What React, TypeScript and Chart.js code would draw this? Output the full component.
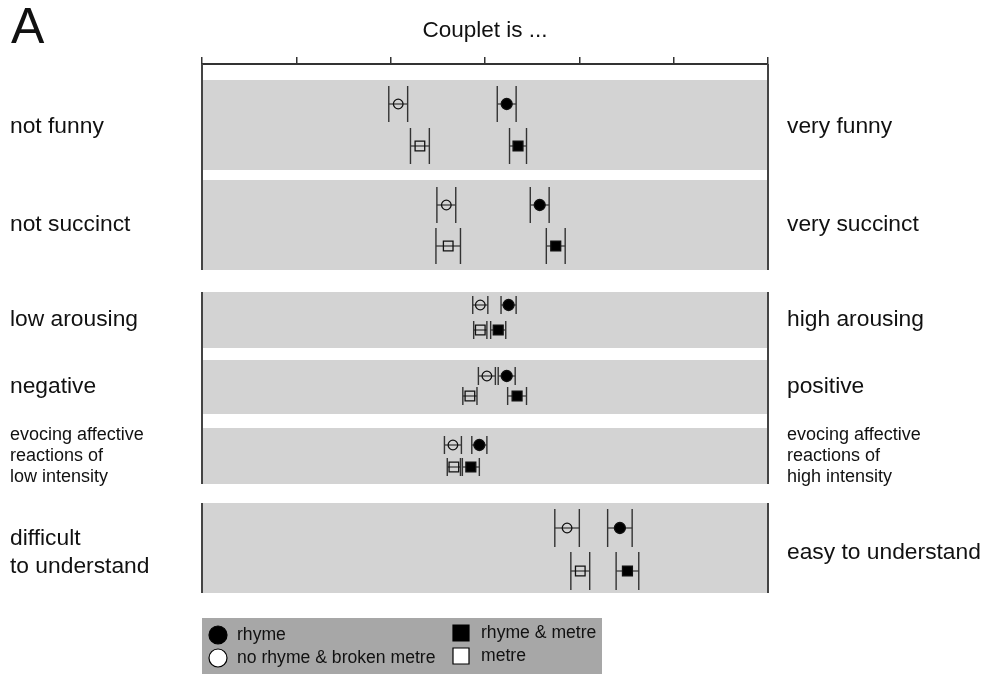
import React, { useEffect, useRef } from "react";
import { Chart, registerables } from "chart.js";
Chart.register(...registerables);

// ---- data ----
const leftLabels: string[][] = [
  ["not funny"],
  ["not succinct"],
  ["low arousing"],
  ["negative"],
  ["evocing affective", "reactions of", "low intensity"],
  ["difficult", "to understand"],
];
const rightLabels: string[][] = [
  ["very funny"],
  ["very succinct"],
  ["high arousing"],
  ["positive"],
  ["evocing affective", "reactions of", "high intensity"],
  ["easy to understand"],
];
const smallLabel = [false, false, false, false, true, false];

const rhymeMean = [4.23, 4.58, 4.25, 4.23, 3.94, 5.43];
const rhymeErr = [0.1, 0.1, 0.08, 0.09, 0.08, 0.13];
const noRhymeMean = [3.08, 3.59, 3.95, 4.02, 3.66, 4.87];
const noRhymeErr = [0.1, 0.1, 0.08, 0.09, 0.09, 0.13];
const rhymeMetreMean = [4.35, 4.75, 4.14, 4.34, 3.85, 5.51];
const rhymeMetreErr = [0.09, 0.1, 0.08, 0.1, 0.09, 0.12];
const metreMean = [3.31, 3.61, 3.95, 3.84, 3.67, 5.01];
const metreErr = [0.1, 0.13, 0.07, 0.075, 0.07, 0.1];

const xTicks = [1, 2, 3, 4, 5, 6, 7];

// ---- panel layout (vertical units of the hidden y scale) ----
const panelTop = [16, 116, 228, 296, 364, 439];
const panelBottom = [106, 206, 284, 350, 420, 529];
const circleRow = [40, 141, 241, 312, 381, 464];
const squareRow = [82, 182, 266, 332, 403, 507];
const capHalf = [18, 18, 9, 9, 9, 19];
const labelShift = [2, 0, 0, 0, 0, 5];
const groups = [
  [0, 206],
  [228, 420],
  [439, 529],
];

const FONT = "'Liberation Sans', Arial, Helvetica, sans-serif";

const seriesDefs = [
  { label: "rhyme", mean: rhymeMean, err: rhymeErr, rows: circleRow, style: "circle", filled: true, r: 5.5 },
  { label: "no rhyme & broken metre", mean: noRhymeMean, err: noRhymeErr, rows: circleRow, style: "circle", filled: false, r: 4.8 },
  { label: "rhyme & metre", mean: rhymeMetreMean, err: rhymeMetreErr, rows: squareRow, style: "rect", filled: true, r: 7 },
  { label: "metre", mean: metreMean, err: metreErr, rows: squareRow, style: "rect", filled: false, r: 6.8 },
];

const bandsPlugin = {
  id: "bandsAndErrors",
  beforeDatasetsDraw(chart: any) {
    const { ctx, scales } = chart;
    const xs = scales.x;
    const ys = scales.y;
    const xl = xs.getPixelForValue(xTicks[0]);
    const xr = xs.getPixelForValue(xTicks[xTicks.length - 1]);
    ctx.save();
    ctx.fillStyle = "#d3d3d3";
    for (let i = 0; i < panelTop.length; i++) {
      const t = ys.getPixelForValue(panelTop[i]);
      const b = ys.getPixelForValue(panelBottom[i]);
      ctx.fillRect(xl, t, xr - xl, b - t);
    }
    ctx.strokeStyle = "#444";
    ctx.lineWidth = 2;
    for (const g of groups) {
      const t = ys.getPixelForValue(g[0]);
      const b = ys.getPixelForValue(g[1]);
      ctx.beginPath();
      ctx.moveTo(xl, t);
      ctx.lineTo(xl, b);
      ctx.moveTo(xr, t);
      ctx.lineTo(xr, b);
      ctx.stroke();
    }
    // error bars
    ctx.strokeStyle = "#333";
    for (const s of seriesDefs) {
      for (let i = 0; i < s.mean.length; i++) {
        const y = ys.getPixelForValue(s.rows[i]);
        const a = xs.getPixelForValue(s.mean[i] - s.err[i]);
        const b = xs.getPixelForValue(s.mean[i] + s.err[i]);
        const h = capHalf[i];
        ctx.lineWidth = 1.2;
        ctx.beginPath();
        ctx.moveTo(a, y);
        ctx.lineTo(b, y);
        ctx.stroke();
        ctx.lineWidth = 1.4;
        ctx.beginPath();
        ctx.moveTo(a, y - h);
        ctx.lineTo(a, y + h);
        ctx.moveTo(b, y - h);
        ctx.lineTo(b, y + h);
        ctx.stroke();
      }
    }
    ctx.restore();
  },
};

const textPlugin = {
  id: "texts",
  afterDraw(chart: any) {
    const { ctx, scales, chartArea } = chart;
    const xs = scales.x;
    const ys = scales.y;
    ctx.save();
    ctx.fillStyle = "#111";
    ctx.textBaseline = "middle";
    // panel letter
    ctx.textAlign = "left";
    ctx.font = `50px ${FONT}`;
    ctx.fillText("A", 11, 29);
    // title
    ctx.textAlign = "center";
    ctx.font = `22.5px ${FONT}`;
    ctx.fillText("Couplet is ...", xs.getPixelForValue(4), 31);
    // side labels
    for (let i = 0; i < leftLabels.length; i++) {
      const small = smallLabel[i];
      const fs = small ? 18 : 22.8;
      const lh = small ? 21 : 28;
      ctx.font = `${fs}px ${FONT}`;
      const cy = ys.getPixelForValue((panelTop[i] + panelBottom[i]) / 2) + labelShift[i];
      const drawLines = (lines: string[], x: number) => {
        const n = lines.length;
        lines.forEach((ln, k) => {
          ctx.fillText(ln, x, cy + (k - (n - 1) / 2) * lh);
        });
      };
      ctx.textAlign = "left";
      drawLines(leftLabels[i], 10);
      drawLines(rightLabels[i], chartArea.right + 19);
    }
    // legend
    const x0 = chartArea.left;
    const y0 = chartArea.bottom + 25;
    ctx.fillStyle = "#a7a7a7";
    ctx.fillRect(x0, y0, 400, 56);
    const pos = [
      { mx: x0 + 16, tx: x0 + 35, y: y0 + 17 },
      { mx: x0 + 16, tx: x0 + 35, y: y0 + 40 },
      { mx: x0 + 259, tx: x0 + 279, y: y0 + 15 },
      { mx: x0 + 259, tx: x0 + 279, y: y0 + 38 },
    ];
    ctx.font = `17.6px ${FONT}`;
    seriesDefs.forEach((s, k) => {
      const p = pos[k];
      ctx.fillStyle = s.filled ? "#000" : "#fff";
      ctx.strokeStyle = "#000";
      ctx.lineWidth = 1.2;
      ctx.beginPath();
      if (s.style === "circle") {
        ctx.arc(p.mx, p.y, 9, 0, Math.PI * 2);
      } else {
        ctx.rect(p.mx - 8, p.y - 8, 16, 16);
      }
      ctx.fill();
      ctx.stroke();
      ctx.fillStyle = "#111";
      ctx.textAlign = "left";
      ctx.fillText(s.label, p.tx, p.y);
    });
    ctx.restore();
  },
};

export default function App() {
  const ref = useRef<HTMLCanvasElement>(null);
  useEffect(() => {
    if (!ref.current) return;
    const chart = new Chart(ref.current, {
      type: "scatter",
      data: {
        datasets: seriesDefs.map((s) => ({
          label: s.label,
          data: s.mean.map((m, i) => ({ x: m, y: s.rows[i] })),
          pointStyle: s.style as any,
          pointRadius: s.r,
          pointHoverRadius: s.r,
          backgroundColor: s.filled ? "#000" : "rgba(0,0,0,0)",
          borderColor: "#111",
          borderWidth: 1.3,
        })),
      },
      options: {
        animation: false,
        responsive: false,
        maintainAspectRatio: false,
        layout: { padding: { left: 202, right: 218, top: 57, bottom: 83 } },
        plugins: { legend: { display: false }, tooltip: { enabled: false } },
        events: [],
        scales: {
          x: {
            type: "linear",
            position: "top",
            min: 1,
            max: 7,
            afterBuildTicks: (axis: any) => {
              axis.ticks = xTicks.map((v) => ({ value: v }));
            },
            ticks: { display: false },
            grid: {
              drawOnChartArea: false,
              drawTicks: true,
              tickLength: 7,
              color: "#333",
              lineWidth: 1.5,
            },
            border: { display: true, color: "#333", width: 2 },
          },
          y: {
            type: "linear",
            display: false,
            min: 0,
            max: 529,
            reverse: true,
          },
        },
      },
      plugins: [bandsPlugin, textPlugin],
    });
    return () => chart.destroy();
  }, []);
  return (
    <div style={{ position: "absolute", left: 0, top: 0, width: 986, height: 676, background: "#fff" }}>
      <canvas ref={ref} width={986} height={676} />
    </div>
  );
}
